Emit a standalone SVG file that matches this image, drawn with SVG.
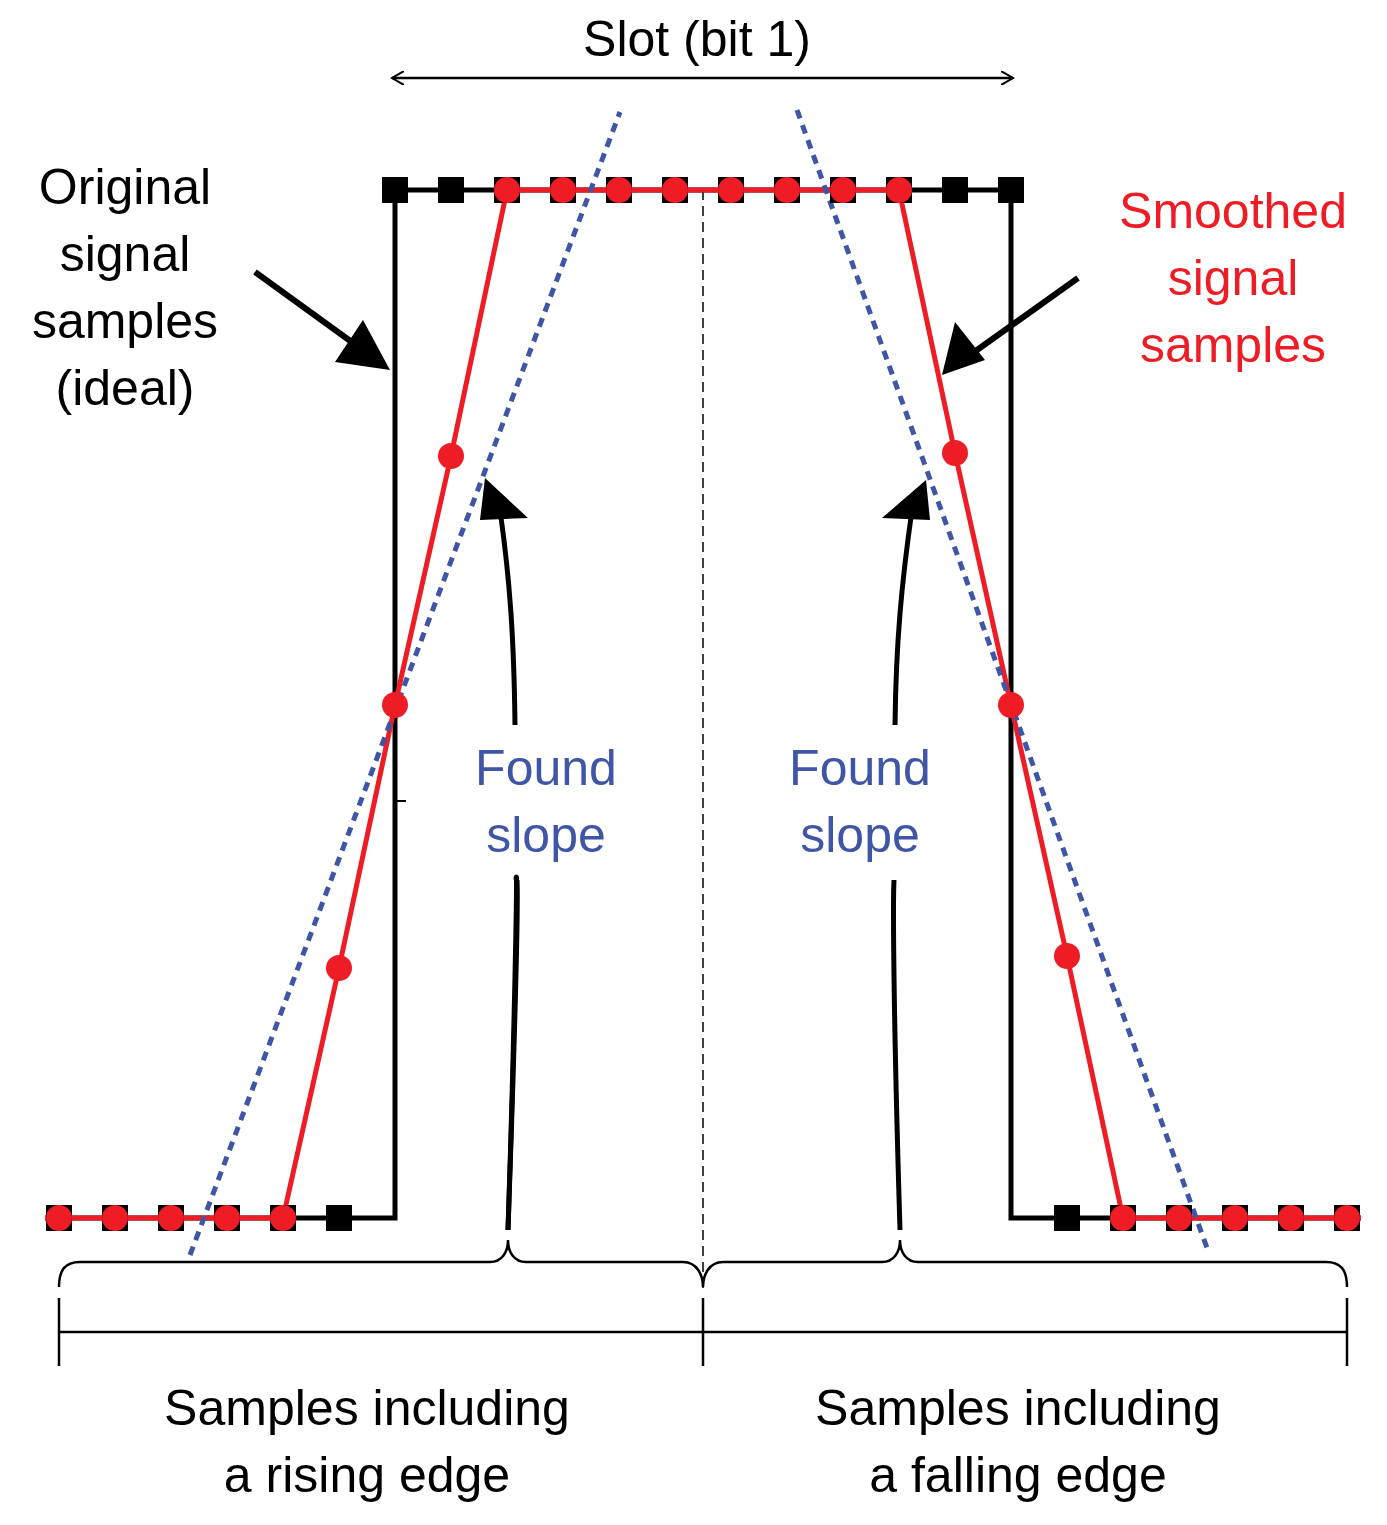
<svg xmlns="http://www.w3.org/2000/svg" width="1387" height="1525" viewBox="0 0 1387 1525">
<defs>
<style>
text{font-family:"Liberation Sans","Noto Sans",sans-serif;font-size:50px;text-anchor:middle}
.k{fill:#000}.r{fill:#ee1c25}.b{fill:#3f55a5}
.sq{fill:#000}
.dot{fill:#ee1c25}
</style>
<marker id="open" markerWidth="14" markerHeight="14" refX="12" refY="7" orient="auto-start-reverse" markerUnits="userSpaceOnUse" viewBox="0 0 14 14">
<path d="M0,0 L12,7 L0,14" fill="none" stroke="#000" stroke-width="2"/>
</marker>
</defs>
<g id="connectors" fill="none">
<line x1="703" y1="190" x2="703" y2="1290" stroke="#000" stroke-width="1.5" stroke-dasharray="10,6"/>
<polyline points="45,1218 395,1218 395,190 1011,190 1011,1218 1361,1218" stroke="#000" stroke-width="5"/>
<line x1="395" y1="801" x2="406" y2="801" stroke="#000" stroke-width="2"/>
<polyline points="45,1218 283,1218 339,968 395,705 451,456 507,190 899,190 955,453 1011,705 1067,956 1123,1218 1361,1218" stroke="#ee1c25" stroke-width="5"/>
<line x1="190" y1="1255" x2="620" y2="112" stroke="#3f55a5" stroke-width="5" stroke-dasharray="9,7"/>
<line x1="797" y1="110" x2="1207" y2="1248" stroke="#3f55a5" stroke-width="5" stroke-dasharray="9,7"/>
<line x1="392" y1="78" x2="1013" y2="78" stroke="#000" stroke-width="2.5" marker-start="url(#open)" marker-end="url(#open)" transform="scale(1)"/>
<line x1="255" y1="272" x2="360" y2="348" stroke="#000" stroke-width="6"/>
<polygon points="390,370 335,362 363,320" fill="#000"/>
<line x1="1078" y1="278" x2="970" y2="355" stroke="#000" stroke-width="6"/>
<polygon points="942,375 955,322 985,360" fill="#000"/>
<path d="M508,1230 C514,1050 518,850 516,880" stroke="#000" stroke-width="5"/>
<path d="M508,1230 C516,1000 518,900 517,880" stroke="#000" stroke-width="5"/>
<path d="M515,725 C514,640 510,580 500,510" stroke="#000" stroke-width="5"/>
<polygon points="485,478 528,518 480,520" fill="#000"/>
<path d="M900,1230 C893,1000 893,900 894,880" stroke="#000" stroke-width="5"/>
<path d="M895,725 C896,640 902,580 912,510" stroke="#000" stroke-width="5"/>
<polygon points="926,480 930,520 882,518" fill="#000"/>
<path d="M59,1287 C59,1270 65,1262 80,1262 L490,1262 C502,1262 508,1252 508,1240 C508,1252 514,1262 526,1262 L683,1262 C697,1262 703,1275 703,1287 C703,1275 709,1262 723,1262 L882,1262 C894,1262 900,1252 900,1240 C900,1252 906,1262 918,1262 L1326,1262 C1341,1262 1347,1270 1347,1287" stroke="#000" stroke-width="2.5"/>
<line x1="59" y1="1332" x2="1347" y2="1332" stroke="#000" stroke-width="2.5"/>
<line x1="59" y1="1298" x2="59" y2="1366" stroke="#000" stroke-width="2.5"/>
<line x1="703" y1="1298" x2="703" y2="1366" stroke="#000" stroke-width="2.5"/>
<line x1="1347" y1="1298" x2="1347" y2="1366" stroke="#000" stroke-width="2.5"/>
</g>
<g id="original-samples" class="sq">
<rect x="46" y="1205" width="26" height="26"/><rect x="102" y="1205" width="26" height="26"/><rect x="158" y="1205" width="26" height="26"/><rect x="214" y="1205" width="26" height="26"/><rect x="270" y="1205" width="26" height="26"/><rect x="326" y="1205" width="26" height="26"/>
<rect x="382" y="177" width="26" height="26"/><rect x="438" y="177" width="26" height="26"/><rect x="494" y="177" width="26" height="26"/><rect x="550" y="177" width="26" height="26"/><rect x="606" y="177" width="26" height="26"/><rect x="662" y="177" width="26" height="26"/><rect x="718" y="177" width="26" height="26"/><rect x="774" y="177" width="26" height="26"/><rect x="830" y="177" width="26" height="26"/><rect x="886" y="177" width="26" height="26"/><rect x="942" y="177" width="26" height="26"/><rect x="998" y="177" width="26" height="26"/>
<rect x="1054" y="1205" width="26" height="26"/><rect x="1110" y="1205" width="26" height="26"/><rect x="1166" y="1205" width="26" height="26"/><rect x="1222" y="1205" width="26" height="26"/><rect x="1278" y="1205" width="26" height="26"/><rect x="1334" y="1205" width="26" height="26"/>
</g>
<g id="smoothed-samples" class="dot">
<circle cx="59" cy="1218" r="13"/><circle cx="115" cy="1218" r="13"/><circle cx="171" cy="1218" r="13"/><circle cx="227" cy="1218" r="13"/><circle cx="283" cy="1218" r="13"/>
<circle cx="339" cy="968" r="13"/><circle cx="395" cy="705" r="13"/><circle cx="451" cy="456" r="13"/>
<circle cx="507" cy="190" r="13"/><circle cx="563" cy="190" r="13"/><circle cx="619" cy="190" r="13"/><circle cx="675" cy="190" r="13"/><circle cx="731" cy="190" r="13"/><circle cx="787" cy="190" r="13"/><circle cx="843" cy="190" r="13"/><circle cx="899" cy="190" r="13"/>
<circle cx="955" cy="453" r="13"/><circle cx="1011" cy="705" r="13"/><circle cx="1067" cy="956" r="13"/>
<circle cx="1123" cy="1218" r="13"/><circle cx="1179" cy="1218" r="13"/><circle cx="1235" cy="1218" r="13"/><circle cx="1291" cy="1218" r="13"/><circle cx="1347" cy="1218" r="13"/>
</g>
<g id="labels">
<text x="697" y="56" class="k">Slot (bit 1)</text>
<text class="k" x="125" y="204">Original</text>
<text class="k" x="125" y="271">signal</text>
<text class="k" x="125" y="338">samples</text>
<text class="k" x="125" y="405">(ideal)</text>
<text class="r" x="1233" y="228">Smoothed</text>
<text class="r" x="1233" y="295">signal</text>
<text class="r" x="1233" y="362">samples</text>
<text class="b" x="546" y="785">Found</text>
<text class="b" x="546" y="852">slope</text>
<text class="b" x="860" y="785">Found</text>
<text class="b" x="860" y="852">slope</text>
<text class="k" x="367" y="1425">Samples including</text>
<text class="k" x="367" y="1492">a rising edge</text>
<text class="k" x="1018" y="1425">Samples including</text>
<text class="k" x="1018" y="1492">a falling edge</text>
</g>
</svg>
